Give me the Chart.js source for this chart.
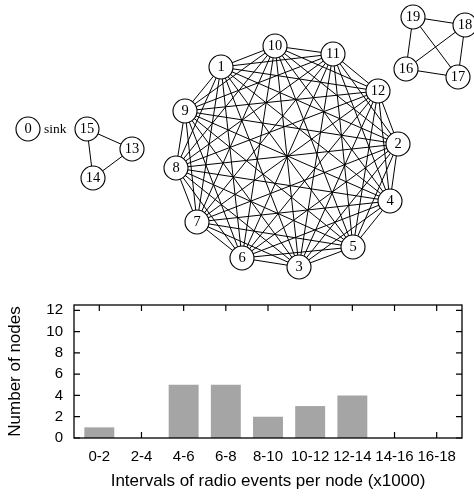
<!DOCTYPE html>
<html>
<head>
<meta charset="utf-8">
<script src="https://cdn.jsdelivr.net/npm/chart.js@4"></script>
<style>
    body { margin: 0; background: #fff; }
    #graphChart { position: absolute; left: 0; top: 0; }
    #histChart { position: absolute; left: 0; top: 285px; }
</style>
</head>
<body>
<canvas id="graphChart" width="474" height="285"></canvas>
<canvas id="histChart" width="474" height="213"></canvas>
<script>
// network layout, one entry per node id
const nodeIds = [0, 1, 2, 3, 4, 5, 6, 7, 8, 9, 10, 11, 12, 13, 14, 15, 16, 17, 18, 19];
const nodeX = [28, 221, 398, 299, 390, 353, 242, 197, 176, 185, 275, 333, 378, 132, 93, 87, 406, 458, 465, 413];
const nodeY = [129, 67, 144, 267, 201, 247, 258, 222, 168, 111, 46, 54, 91, 149, 178, 129, 69, 77, 25, 17];

// groups in which every node hears every other node
const cliques = [
    [1, 2, 3, 4, 5, 6, 7, 8, 9, 10, 11, 12],
    [13, 14, 15],
    [16, 17, 18, 19]
];
const sinkNode = 0;
const sinkLabel = 'sink';

// histogram
const intervals = ['0-2', '2-4', '4-6', '6-8', '8-10', '10-12', '12-14', '14-16', '16-18'];
const nodeCounts = [1, 0, 5, 5, 2, 3, 4, 0, 0];
const countTicks = [0, 2, 4, 6, 8, 10, 12];

function buildLinkPoints() {
    const pts = [];
    cliques.forEach(group => {
        for (let i = 0; i < group.length; i++) {
            for (let j = i + 1; j < group.length; j++) {
                const a = group[i], b = group[j];
                pts.push({x: nodeX[a], y: nodeY[a]});
                pts.push({x: nodeX[b], y: nodeY[b]});
                pts.push({x: NaN, y: NaN}); // break the line
            }
        }
    });
    return pts;
}

const nodeLabels = {
    id: 'nodeLabels',
    afterDatasetsDraw(chart) {
        const meta = chart.getDatasetMeta(0);
        const ctx = chart.ctx;
        ctx.save();
        ctx.font = '14.5px "Liberation Serif"';
        ctx.fillStyle = '#000';
        ctx.textAlign = 'center';
        ctx.textBaseline = 'middle';
        meta.data.forEach((pt, i) => {
            ctx.fillText(String(nodeIds[i]), pt.x, pt.y + 0.5);
        });
        const s = meta.data[nodeIds.indexOf(sinkNode)];
        ctx.font = '13.5px "Liberation Serif"';
        ctx.textAlign = 'left';
        ctx.fillText(sinkLabel, s.x + 16, s.y);
        ctx.restore();
    }
};

new Chart(document.getElementById('graphChart'), {
    type: 'scatter',
    data: {
        datasets: [
            {
                label: 'nodes',
                data: nodeIds.map(id => ({x: nodeX[id], y: nodeY[id]})),
                pointRadius: 12,
                pointBackgroundColor: '#fff',
                pointBorderColor: '#000',
                pointBorderWidth: 1.1,
                showLine: false,
                order: 0,
                clip: false
            },
            {
                label: 'links',
                data: buildLinkPoints(),
                showLine: true,
                spanGaps: false,
                borderColor: '#000',
                borderWidth: 1,
                pointRadius: 0,
                order: 1,
                clip: false
            }
        ]
    },
    options: {
        responsive: false,
        animation: false,
        events: [],
        layout: { padding: 0, autoPadding: false },
        plugins: { legend: { display: false }, tooltip: { enabled: false } },
        scales: {
            x: { type: 'linear', display: false, min: 0, max: 474 },
            y: { type: 'linear', display: false, min: 0, max: 285, reverse: true }
        }
    },
    plugins: [nodeLabels]
});

// gnuplot style frame with inward tick marks
const frameTicks = {
    id: 'frameTicks',
    beforeDatasetsDraw(chart) {
        const {ctx, chartArea: a, scales: {x, y}} = chart;
        const len = 6;
        ctx.save();
        ctx.strokeStyle = '#000';
        ctx.lineWidth = 1.2;
        ctx.beginPath();
        countTicks.forEach(v => {
            const py = y.getPixelForValue(v);
            ctx.moveTo(a.left, py); ctx.lineTo(a.left + len, py);
            ctx.moveTo(a.right, py); ctx.lineTo(a.right - len, py);
        });
        intervals.forEach((c, i) => {
            const px = x.getPixelForValue(i);
            ctx.moveTo(px, a.bottom); ctx.lineTo(px, a.bottom - len);
            ctx.moveTo(px, a.top); ctx.lineTo(px, a.top + len);
        });
        ctx.stroke();
        ctx.restore();
    },
    afterDatasetsDraw(chart) {
        const {ctx, chartArea: a} = chart;
        ctx.save();
        ctx.strokeStyle = '#000';
        ctx.lineWidth = 1.3;
        ctx.strokeRect(a.left, a.top, a.right - a.left, a.bottom - a.top);
        ctx.restore();
    }
};

const sansTick = { family: 'Liberation Sans', size: 15 };
const sansTitle = { family: 'Liberation Sans', size: 17 };

new Chart(document.getElementById('histChart'), {
    type: 'bar',
    data: {
        datasets: [{
            data: nodeCounts.map((v, i) => ({x: i, y: v})),
            backgroundColor: '#a5a5a5',
            borderWidth: 0,
            categoryPercentage: 1,
            barPercentage: 0.71
        }]
    },
    options: {
        responsive: false,
        animation: false,
        events: [],
        layout: { padding: { top: 20, right: 12, left: 0, bottom: 0 } },
        plugins: { legend: { display: false }, tooltip: { enabled: false } },
        scales: {
            x: {
                type: 'linear',
                offset: false,
                min: -0.6,
                max: 8.6,
                grid: { display: false, drawTicks: false },
                border: { display: false },
                afterBuildTicks: s => { s.ticks = intervals.map((c, i) => ({ value: i })); },
                afterFit: s => { s.height = 60; },
                ticks: {
                    callback: v => intervals[v],
                    color: '#000',
                    font: sansTick,
                    padding: 10,
                    maxRotation: 0,
                    autoSkip: false
                },
                title: {
                    display: true,
                    text: 'Intervals of radio events per node (x1000)',
                    color: '#000',
                    font: sansTitle,
                    padding: { top: 0, bottom: 6 }
                }
            },
            y: {
                min: 0,
                max: 12.5,
                grid: { display: false, drawTicks: false },
                border: { display: false },
                afterBuildTicks: s => { s.ticks = countTicks.map(v => ({ value: v })); },
                afterFit: s => { s.width = 74; },
                ticks: { color: '#000', font: sansTick, padding: 11 },
                title: {
                    display: true,
                    text: 'Number of nodes',
                    color: '#000',
                    font: sansTitle,
                    padding: { top: 5, bottom: 0 }
                }
            }
        }
    },
    plugins: [frameTicks]
});
</script>
</body>
</html>
